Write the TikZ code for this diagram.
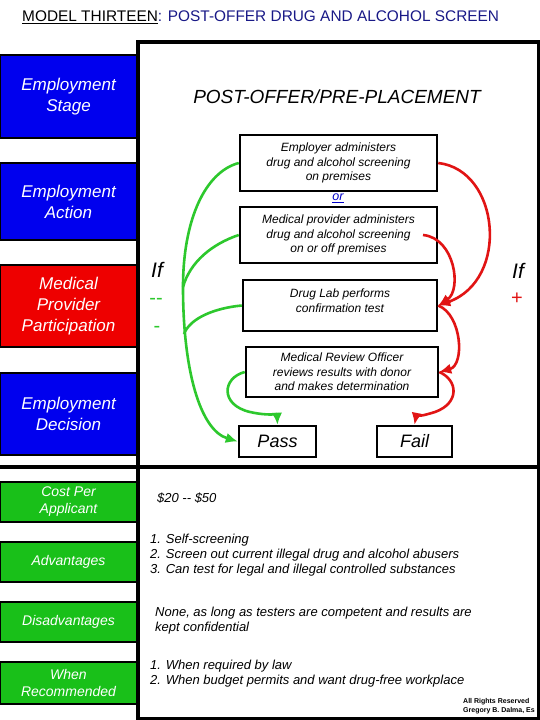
\documentclass[tikz,border=0pt]{standalone}
\usepackage{fontspec}
\setmainfont{Liberation Sans}
\usetikzlibrary{arrows.meta}
\definecolor{sblue}{RGB}{0,0,238}
\definecolor{sred}{RGB}{238,0,0}
\definecolor{sgreen}{RGB}{25,192,25}
\definecolor{cgreen}{RGB}{45,200,45}
\definecolor{cred}{RGB}{225,20,20}
\definecolor{tblue}{RGB}{25,25,135}
\definecolor{orblue}{RGB}{0,0,200}
\newcommand\fsz[2]{\fontsize{#1}{#2}\selectfont}
\begin{document}
\begin{tikzpicture}[x=1pt,y=-1pt,
  leftbox/.style={draw=black, line width=1.5pt, fill=sblue, text=white, font=\fsz{17}{21}\itshape, align=center, inner sep=0pt, minimum width=137pt},
  greenbox/.style={draw=black, line width=1.5pt, fill=sgreen, text=white, font=\fsz{14}{17}\itshape, align=center, inner sep=0pt, minimum width=137pt, minimum height=40pt},
  flowbox/.style={draw=black, line width=2.5pt, fill=white, font=\fsz{12}{14.5}\itshape, align=center, inner sep=0pt},
  gline/.style={draw=cgreen, line width=2.6pt},
  rline/.style={draw=cred, line width=2.6pt},
  arrowend/.style={-{Latex[length=12pt,width=10.5pt]}},
  bodytext/.style={anchor=west, align=left, font=\fsz{13}{15}\itshape, inner sep=0pt},
  panel/.style={line width=4pt}
]
\useasboundingbox (0,0) rectangle (540,720);
\fill[white] (0,0) rectangle (540,720);

% title
\node[anchor=west, font=\fsz{15.4}{18}, inner sep=0pt] (title) at (22,17)
  {\underline{MODEL THIRTEEN}\textcolor{tblue}{: POST-OFFER DRUG AND ALCOHOL SCREEN}};

% left category boxes
\node[leftbox, minimum height=83pt] (stage) at (68.5,96.5) {Employment\\Stage};
\node[leftbox, minimum height=77pt] (action) at (68.5,201.5) {Employment\\Action};
\node[leftbox, fill=sred, minimum height=82pt] (medical) at (68.5,306) {Medical\\Provider\\Participation};
\node[leftbox, minimum height=82pt] (decision) at (68.5,414) {Employment\\Decision};

\node[greenbox] (cost) at (68.5,502) {Cost Per\\Applicant};
\node[greenbox] (adv) at (68.5,562) {Advantages};
\node[greenbox] (dis) at (68.5,622) {Disadvantages};
\node[greenbox, minimum height=42pt] (when) at (68.5,683) {When\\Recommended};

% panels
\draw[panel] (0,467) -- (538.5,467);
\draw[panel] (138,718.5) -- (138,42) -- (538.5,42) -- (538.5,718.5) -- cycle;

% upper panel
\node[font=\fsz{19}{22}\itshape] (heading) at (337,97) {POST-OFFER/PRE-PLACEMENT};

\node[flowbox, minimum width=197pt, minimum height=56pt] (b1) at (338.5,163)
  {Employer administers\\drug and alcohol screening\\on premises};
\node[font=\fsz{12.5}{14}\itshape, text=orblue, inner sep=0pt] (or) at (338,198) {\underline{or}};
\node[flowbox, minimum width=197pt, minimum height=56pt] (b2) at (338.5,235)
  {Medical provider administers\\drug and alcohol screening\\on or off premises};
\node[flowbox, minimum width=194pt, minimum height=51pt] (b3) at (340,305.5)
  {Drug Lab performs\\confirmation test\\[-4.5pt]\mbox{}};
\node[flowbox, minimum width=192pt, minimum height=50pt] (b4) at (342,372)
  {Medical Review Officer\\reviews results with donor\\and makes determination};
\node[flowbox, font=\fsz{18}{20}\itshape, minimum width=77pt, minimum height=31pt] (pass) at (277.5,441.5) {Pass};
\node[flowbox, font=\fsz{18}{20}\itshape, minimum width=75pt, minimum height=31pt] (fail) at (414.5,441.5) {Fail};

\node[font=\fsz{21}{24}\itshape, inner sep=0pt] (ifl) at (157,270) {If};
\node[font=\fsz{20}{22}, text=cgreen, inner sep=0pt] (minusa) at (156,301) {-{}-};
\node[font=\fsz{20}{22}, text=cgreen, inner sep=0pt] (minusb) at (157,329) {-};
\node[font=\fsz{21}{24}\itshape, inner sep=0pt] (ifr) at (518,271) {If};
\node[font=\fsz{20}{22}, text=cred, inner sep=0pt] (plus) at (517,299) {+};

% green connectors
\coordinate (j1) at (183,287);
\coordinate (j2) at (184,334);
\draw[gline, arrowend] (b1.west) .. controls (205,172) and (183,220) .. (j1)
  .. controls (183,370) and (200,430) .. (pass.west);
\draw[gline] (b2.west) .. controls (212,244) and (190,262) .. (j1);
\draw[gline] (b3.west) .. controls (215,308) and (190,318) .. (j2);
\draw[gline, arrowend] (b4.west) .. controls (222,378) and (220,405) .. (250,412)
  .. controls (268,416) and (277,414) .. (pass.north);

% red connectors
\coordinate (r2) at (423,235);
\draw[rline, arrowend] (b1.east) .. controls (500,170) and (510,280) .. (b3.east);
\draw[rline, arrowend] (r2) .. controls (455,238) and (462,290) .. (b3.east);
\draw[rline, arrowend] (b3.east) .. controls (462,315) and (465,365) .. (b4.east);
\draw[rline, arrowend] (b4.east) .. controls (458,380) and (460,403) .. (435,412)
  .. controls (422,416) and (416,417) .. (fail.north);

% lower panel texts
\node[bodytext] (costtxt) at (157,498) {\$20 -{}- \$50};
\node[bodytext] (advtxt) at (150,555) {1. Self-screening\\2. Screen out current illegal drug and alcohol abusers\\3. Can test for legal and illegal controlled substances};
\node[bodytext] (distxt) at (155,620.5) {None, as long as testers are competent and results are\\kept confidential};
\node[bodytext] (whentxt) at (150,673.5) {1. When required by law\\2. When budget permits and want drug-free workplace};

\node[anchor=north west, align=left, font=\fsz{7}{9}\bfseries, inner sep=0pt] (copy) at (463,698)
  {All Rights Reserved\\Gregory B. Dalma, Es};
\end{tikzpicture}
\end{document}
